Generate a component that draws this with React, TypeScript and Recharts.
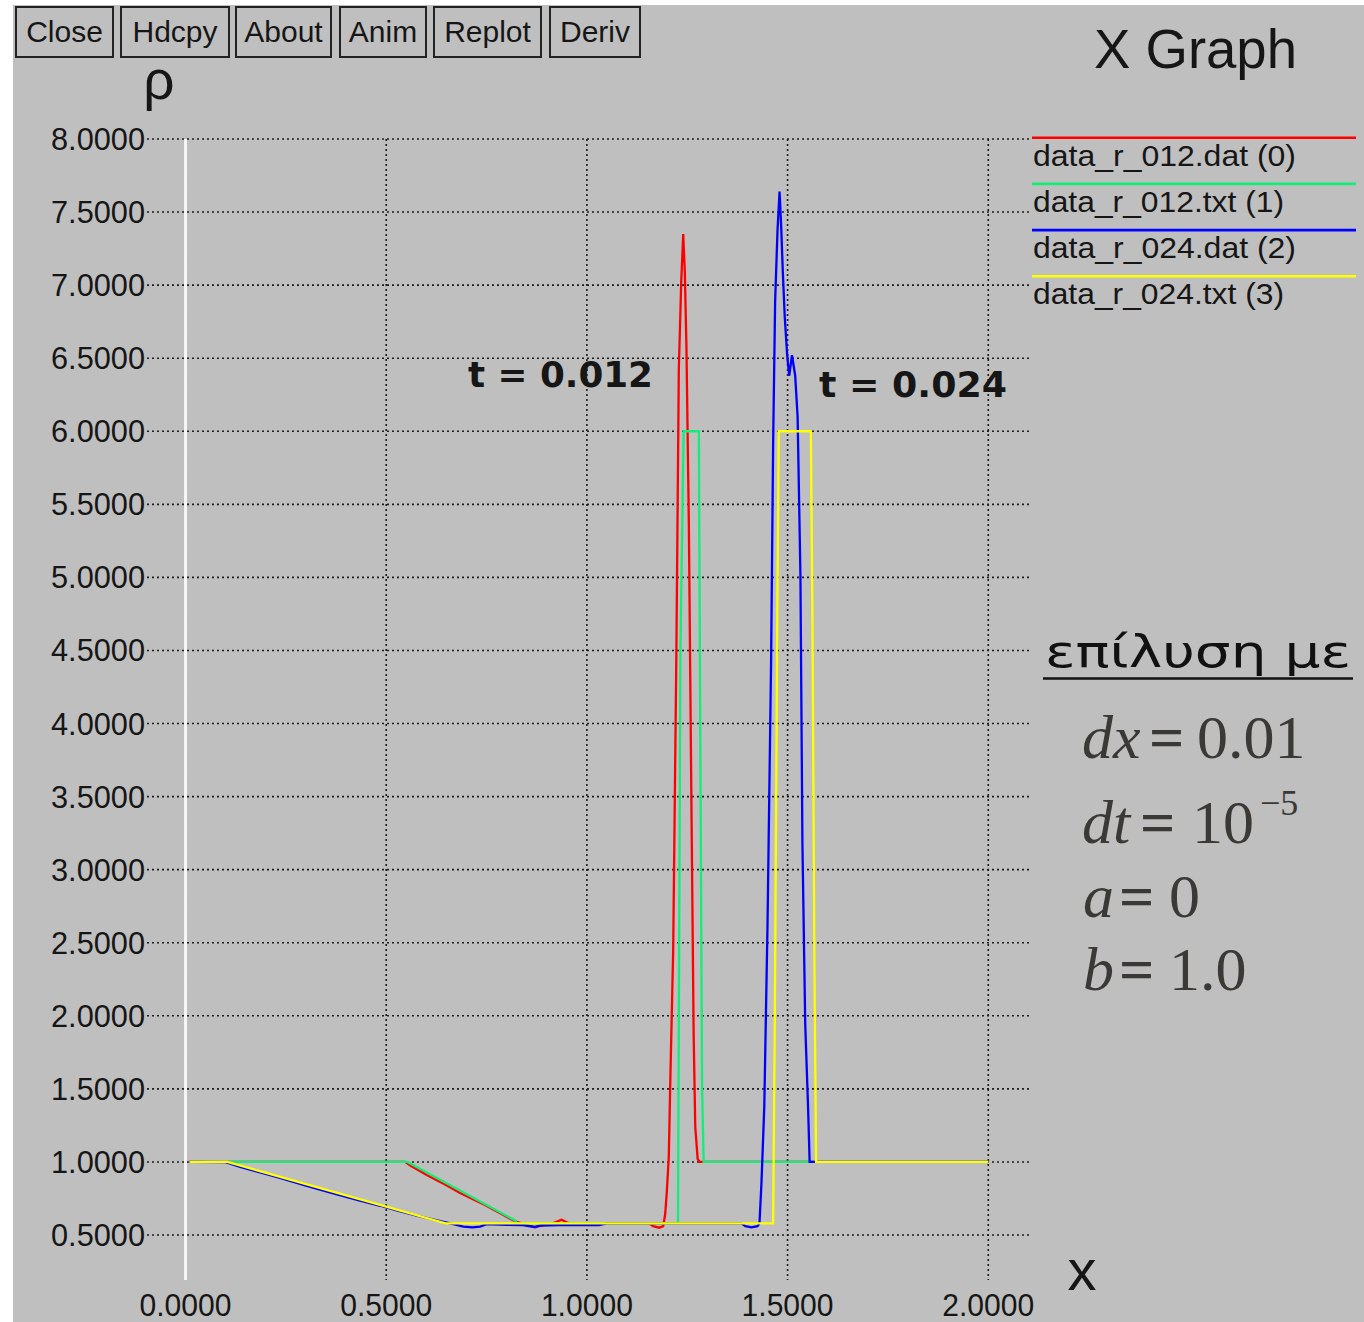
import React from 'react';
import { LineChart, Line, XAxis, YAxis, CartesianGrid, ReferenceLine, Legend } from 'recharts';

// axis ticks
const xTicks = [0, 0.5, 1.0, 1.5, 2.0];
const yTicks = [0.5, 1.0, 1.5, 2.0, 2.5, 3.0, 3.5, 4.0, 4.5, 5.0, 5.5, 6.0, 6.5, 7.0, 7.5, 8.0];

// [x, rho]
const r012dat = [
  [0.01, 1.0], [0.547, 1.0], [0.56, 0.975], [0.601, 0.911], [0.65, 0.84], [0.684, 0.788],
  [0.72, 0.74], [0.746, 0.706], [0.77, 0.67], [0.792, 0.637], [0.81, 0.61], [0.825, 0.59],
  [0.85, 0.569], [0.871, 0.553], [0.892, 0.569], [0.915, 0.58], [0.937, 0.605], [0.955, 0.58],
  [1.155, 0.58], [1.165, 0.56], [1.18, 0.55], [1.19, 0.56], [1.195, 0.64], [1.199, 0.79],
  [1.204, 1.03], [1.208, 1.58], [1.215, 2.45], [1.223, 4.5], [1.229, 6.42], [1.235, 7.02],
  [1.240, 7.35], [1.244, 7.09], [1.248, 6.58], [1.254, 5.37], [1.260, 3.58], [1.266, 1.87],
  [1.270, 1.24], [1.276, 1.02], [1.281, 1.0], [2.0, 1.0],
];
const r012txt = [
  [0.01, 1.0], [0.553, 1.0], [0.822, 0.598], [0.825, 0.58], [1.227, 0.58], [1.229, 1.93],
  [1.233, 4.5], [1.241, 6.0], [1.279, 6.0], [1.281, 4.77], [1.287, 1.5], [1.291, 1.0], [2.0, 1.0],
];
const r024dat = [
  [0.01, 1.0], [0.10, 0.998], [0.115, 0.984], [0.136, 0.966], [0.186, 0.928], [0.235, 0.89],
  [0.298, 0.84], [0.335, 0.81], [0.375, 0.78], [0.43, 0.738], [0.485, 0.70], [0.526, 0.668],
  [0.576, 0.632], [0.626, 0.6], [0.651, 0.585], [0.67, 0.572], [0.692, 0.557], [0.715, 0.552],
  [0.734, 0.557], [0.75, 0.574], [0.80, 0.57], [0.84, 0.568], [0.87, 0.555], [0.885, 0.565],
  [0.93, 0.568], [1.03, 0.568], [1.05, 0.58], [1.385, 0.58], [1.395, 0.56], [1.41, 0.552],
  [1.425, 0.56], [1.430, 0.58], [1.435, 0.86], [1.442, 1.38], [1.450, 2.62], [1.459, 4.44],
  [1.464, 5.91], [1.469, 6.89], [1.475, 7.38], [1.480, 7.64], [1.484, 7.41], [1.488, 7.10],
  [1.493, 6.78], [1.499, 6.52], [1.504, 6.38], [1.511, 6.52], [1.519, 6.38], [1.525, 6.1],
  [1.532, 5.02], [1.537, 3.18], [1.544, 1.94], [1.551, 1.38], [1.555, 1.0], [2.0, 1.0],
];
const r024txt = [
  [0.01, 1.0], [0.104, 1.0], [0.648, 0.58], [1.464, 0.58], [1.468, 1.9], [1.474, 4.6],
  [1.478, 6.0], [1.558, 6.0], [1.562, 4.7], [1.567, 2.3], [1.571, 1.0], [2.0, 1.0],
];

const seriesNames = ['data_r_012.dat (0)', 'data_r_012.txt (1)', 'data_r_024.dat (2)', 'data_r_024.txt (3)'];
const seriesData = [r012dat, r012txt, r024dat, r024txt];
const seriesColors = ['#ff0000', '#14ee78', '#0000ff', '#ffff00'];

const buttonLabels = ['Close', 'Hdcpy', 'About', 'Anim', 'Replot', 'Deriv'];

const toPts = (arr: number[][]) => arr.map(([x, y]) => ({ x, y }));

const sans = '"Liberation Sans", Arial, sans-serif';
const serif = '"Liberation Serif", "Times New Roman", serif';
const ink = '#161616';

const YTick = (props: any) => {
  const { x, y, payload } = props;
  return (
    <text x={x - 96} y={y + 11} fontFamily={sans} fontSize={32} fill={ink} textLength={94} lengthAdjust="spacingAndGlyphs">
      {Number(payload.value).toFixed(4)}
    </text>
  );
};

const XTick = (props: any) => {
  const { x, y, payload } = props;
  return (
    <text x={x - 46} y={y + 36} fontFamily={sans} fontSize={31} fill={ink} textLength={92} lengthAdjust="spacingAndGlyphs">
      {Number(payload.value).toFixed(4)}
    </text>
  );
};

const renderLegend = (props: any) => {
  const { payload } = props;
  return (
    <svg width={333} height={200} style={{ display: 'block' }}>
      {(payload || []).map((entry: any, i: number) => {
        const ly = 17.7 + i * 46.2;
        const label = String(entry.value);
        return (
          <g key={label}>
            <line x1={1} x2={325} y1={ly} y2={ly} stroke={entry.color} strokeWidth={2.6} />
            <text x={2} y={ly + 28} fontFamily={sans} fontSize={29} fill={ink}
              textLength={label.includes('.dat') ? 263 : 251} lengthAdjust="spacingAndGlyphs">
              {label}
            </text>
          </g>
        );
      })}
    </svg>
  );
};

// button boxes as seen in the xgraph window
const buttonBoxes = [[16, 113], [121, 229], [236, 331], [340, 426], [434, 541], [550, 640]];

export default function App() {
  return (
    <div style={{ position: 'absolute', left: 0, top: 0, width: 1364, height: 1322, background: '#ffffff', overflow: 'hidden' }}>
      <div style={{ position: 'absolute', left: 13, top: 5, right: 0, bottom: 0, background: '#bfbfbf' }} />
      <div style={{ position: 'absolute', left: 0, top: 0 }}>
        <LineChart width={1364} height={1322} margin={{ top: 139, right: 334, bottom: 0, left: 0 }}>
          <CartesianGrid stroke="#1e1e1e" strokeDasharray="2 3" strokeWidth={1.6} syncWithTicks />
          <XAxis
            type="number"
            dataKey="x"
            domain={[-0.096, 2.104]}
            ticks={xTicks}
            interval={0}
            allowDataOverflow
            height={42}
            axisLine={false}
            tickLine={false}
            tickSize={0}
            tickMargin={0}
            tick={<XTick />}
          />
          <YAxis
            type="number"
            dataKey="y"
            domain={[0.192, 8.0]}
            ticks={yTicks}
            interval={0}
            allowDataOverflow
            width={147}
            axisLine={false}
            tickLine={false}
            tickSize={0}
            tickMargin={0}
            tick={<YTick />}
          />
          <ReferenceLine x={0} stroke="#f6f6f6" strokeWidth={3} />
          {seriesData.map((d, i) => (
            <Line
              key={seriesNames[i]}
              data={toPts(d)}
              dataKey="y"
              name={seriesNames[i]}
              type="linear"
              stroke={seriesColors[i]}
              strokeWidth={2.3}
              dot={false}
              activeDot={false}
              isAnimationActive={false}
            />
          ))}
          <Legend
            layout="vertical"
            align="center"
            verticalAlign="middle"
            wrapperStyle={{ left: 1031, top: 120, width: 333, height: 200 }}
            content={renderLegend}
          />
        </LineChart>
      </div>
      <svg width={1364} height={1322} style={{ position: 'absolute', left: 0, top: 0, pointerEvents: 'none' }}>
        {buttonLabels.map((b, i) => {
          const [x0, x1] = buttonBoxes[i];
          return (
            <g key={b}>
              <rect x={x0} y={7} width={x1 - x0} height={50} fill="none" stroke="#222" strokeWidth={2} />
              <text x={(x0 + x1) / 2} y={42} textAnchor="middle" fontFamily={sans} fontSize={30} fill={ink}>{b}</text>
            </g>
          );
        })}
        <text x={1094} y={68} fontFamily={sans} fontSize={55} fill={ink} textLength={203} lengthAdjust="spacingAndGlyphs">X Graph</text>
        <text x={159} y={99} textAnchor="middle" fontFamily={sans} fontSize={55} fill={ink}>ρ</text>
        <text x={1082} y={1290} textAnchor="middle" fontFamily={sans} fontSize={58} fill={ink}>x</text>

        <text x={468} y={387} fontFamily='"DejaVu Sans", sans-serif' fontWeight="bold" fontSize={35} fill={ink}
          textLength={185} lengthAdjust="spacingAndGlyphs">t = 0.012</text>
        <text x={819} y={397} fontFamily='"DejaVu Sans", sans-serif' fontWeight="bold" fontSize={35} fill={ink}
          textLength={188} lengthAdjust="spacingAndGlyphs">t = 0.024</text>

        <text x={1045} y={667} fontFamily='"DejaVu Sans", sans-serif' fontSize={44} fill="#111"
          textLength={306} lengthAdjust="spacingAndGlyphs">επίλυση με</text>
        <line x1={1043} x2={1353} y1={678.5} y2={678.5} stroke="#111" strokeWidth={2.5} />

        <g fontFamily={serif} fontSize={62} fill="#3a3935">
          <text y={758}>
            <tspan x={1082} fontStyle="italic">dx</tspan>
            <tspan x={1149} fontWeight="bold">=</tspan>
            <tspan x={1197}>0.01</tspan>
          </text>
          <text y={843}>
            <tspan x={1082} fontStyle="italic">dt</tspan>
            <tspan x={1140} fontWeight="bold">=</tspan>
            <tspan x={1192}>10</tspan>
          </text>
          <text x={1260} y={815} fontSize={36}>−5</text>
          <text y={917}>
            <tspan x={1083} fontStyle="italic">a</tspan>
            <tspan x={1119} fontWeight="bold">=</tspan>
            <tspan x={1169}>0</tspan>
          </text>
          <text y={990}>
            <tspan x={1083} fontStyle="italic">b</tspan>
            <tspan x={1119} fontWeight="bold">=</tspan>
            <tspan x={1169}>1.0</tspan>
          </text>
        </g>
      </svg>
    </div>
  );
}
